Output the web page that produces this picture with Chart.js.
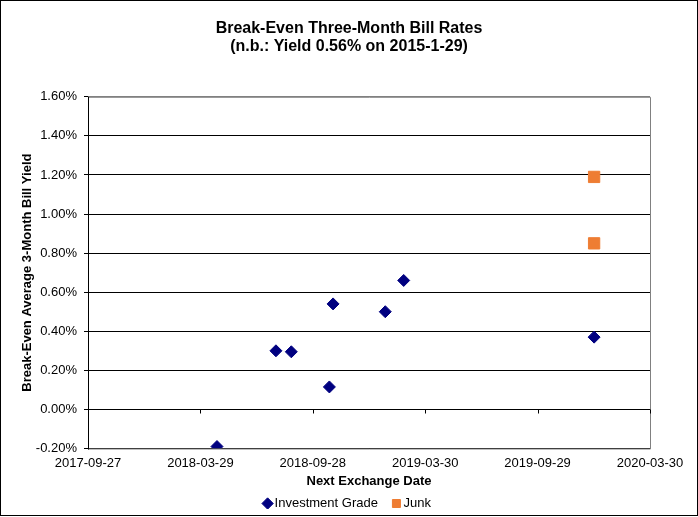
<!DOCTYPE html>
<html>
<head>
<meta charset="utf-8">
<script src="https://cdn.jsdelivr.net/npm/chart.js@4/dist/chart.umd.min.js"></script>
<style>
  body { margin: 0; background: #fff; }
</style>
</head>
<body>
<canvas id="myChart" width="698" height="517"></canvas>
<script>
// data
var startDate = "2017-09-27";
var endDate = "2020-03-30";
var stepDays = 183;

var gradeDates = ["2018-04-25", "2018-07-30", "2018-08-24", "2018-10-25", "2018-10-31", "2019-01-24", "2019-02-23", "2019-12-30"];
var gradeYields = [-0.19, 0.30, 0.295, 0.115, 0.54, 0.50, 0.66, 0.37];

var junkDates = ["2019-12-30", "2019-12-30"];
var junkYields = [1.19, 0.85];

var yTicks = [-0.2, 0, 0.2, 0.4, 0.6, 0.8, 1.0, 1.2, 1.4, 1.6];

// days since start date, so the x ticks fall on the 183 day steps
function dayNum(s) {
  var p = s.split("-");
  return Date.UTC(+p[0], +p[1] - 1, +p[2]) / 86400000;
}
var day0 = dayNum(startDate);
function toX(s) { return dayNum(s) - day0; }
function toLabel(d) {
  return new Date((day0 + d) * 86400000).toISOString().slice(0, 10);
}

function points(dates, vals) {
  var out = [];
  for (var i = 0; i < dates.length; i++) {
    out.push({ x: toX(dates[i]), y: vals[i] });
  }
  return out;
}

var font = "'Liberation Sans', Arial, sans-serif";
Chart.defaults.font.family = font;
Chart.defaults.color = "#000";

// plot frame, zero line ticks and outer border
var framePlugin = {
  id: "frame",
  afterDraw: function(chart) {
    var c = chart.ctx, a = chart.chartArea;
    var xs = chart.scales.x, ys = chart.scales.y;
    c.save();
    c.lineWidth = 1;
    c.strokeStyle = "#808080";
    c.beginPath();
    c.moveTo(a.left, a.top + 0.5);
    c.lineTo(a.right + 0.5, a.top + 0.5);
    c.lineTo(a.right + 0.5, a.bottom + 0.5);
    c.lineTo(a.left, a.bottom + 0.5);
    c.stroke();
    c.strokeStyle = "#000";
    var y0 = Math.round(ys.getPixelForValue(0)) + 0.5;
    c.beginPath();
    c.moveTo(a.left + 0.5, a.top);
    c.lineTo(a.left + 0.5, a.bottom + 1);
    for (var i = 1; i < xs.ticks.length; i++) {
      var px = Math.round(xs.getPixelForValue(xs.ticks[i].value)) + 0.5;
      c.moveTo(px, y0);
      c.lineTo(px, y0 + 4);
    }
    c.stroke();
    c.strokeRect(0.5, 0.5, chart.width - 1, chart.height - 2);
    c.restore();
  }
};

var ctx = document.getElementById("myChart");

var data = {
  datasets: [{
    label: "Investment Grade",
    data: points(gradeDates, gradeYields),
    pointStyle: "rectRot",
    pointRadius: 6,
    pointHoverRadius: 6,
    backgroundColor: "#000080",
    borderColor: "#000080",
    borderWidth: 1,
    showLine: false
  }, {
    label: "Junk",
    data: points(junkDates, junkYields),
    pointStyle: "rect",
    pointRadius: 8,
    pointHoverRadius: 8,
    backgroundColor: "#ee7d33",
    borderColor: "#ee7d33",
    borderWidth: 1,
    showLine: false
  }]
};

var options = {
  responsive: false,
  animation: false,
  layout: { padding: { left: 0, right: 0, top: 0, bottom: 8 } },
  plugins: {
    title: {
      display: true,
      text: ["Break-Even Three-Month Bill Rates", "(n.b.: Yield 0.56% on 2015-1-29)"],
      font: { size: 16, weight: "bold", lineHeight: 1.15 },
      padding: { top: 19, bottom: 41 }
    },
    legend: {
      position: "bottom",
      maxHeight: 30,
      labels: {
        usePointStyle: true,
        boxWidth: 1,
        boxHeight: 8,
        padding: 18,
        font: { size: 13 }
      }
    },
    tooltip: { enabled: false }
  },
  scales: {
    x: {
      type: "linear",
      min: 0,
      max: toX(endDate),
      border: { display: false },
      grid: { display: false, drawTicks: false },
      afterFit: function(s) {
        s.height = 30.5;
        s.paddingRight = 48;
      },
      ticks: {
        stepSize: stepDays,
        padding: 7,
        font: { size: 13 },
        callback: function(v) { return toLabel(v); },
        maxRotation: 0
      },
      title: {
        display: true,
        text: "Next Exchange Date",
        font: { size: 13, weight: "bold" },
        padding: { top: 0, bottom: -10.5 }
      }
    },
    y: {
      min: yTicks[0],
      max: yTicks[yTicks.length - 1],
      afterBuildTicks: function(s) {
        s.ticks = yTicks.map(function(v) { return { value: v }; });
      },
      afterFit: function(s) { s.width = 88; },
      border: { display: false },
      grid: {
        color: function(c) { return c.index === yTicks.length - 1 ? "#808080" : "#000"; },
        tickLength: 4,
        tickColor: "#000"
      },
      ticks: {
        padding: 7,
        font: { size: 13 },
        callback: function(v) { return v.toFixed(2) + "%"; }
      },
      title: {
        display: true,
        text: "Break-Even Average 3-Month Bill Yield",
        font: { size: 13, weight: "bold" },
        padding: { top: 20, bottom: 0 }
      }
    }
  }
};

var myChart = new Chart(ctx, {
  type: "scatter",
  data: data,
  options: options,
  plugins: [framePlugin]
});
</script>
</body>
</html>
